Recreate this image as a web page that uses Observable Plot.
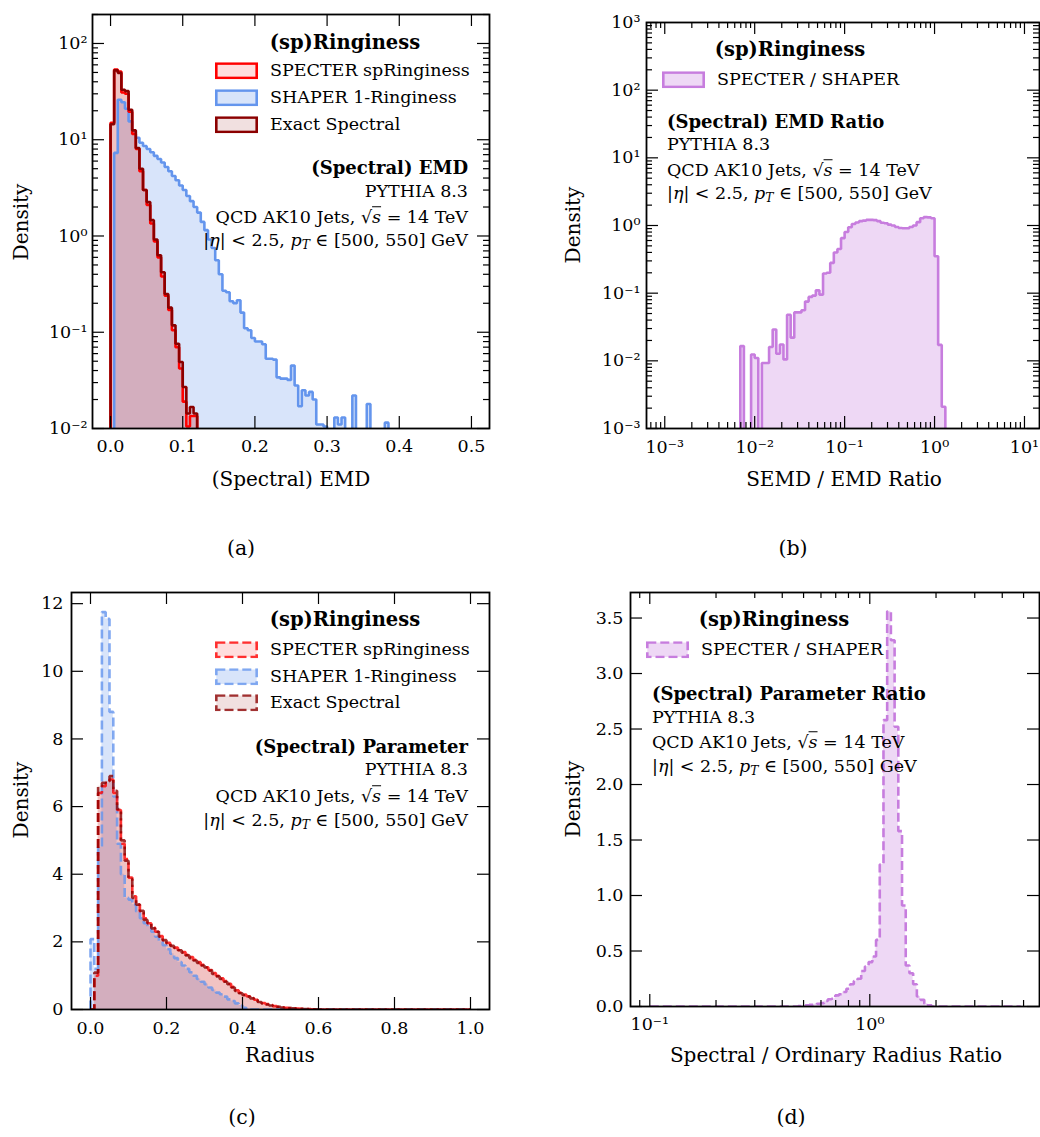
<!DOCTYPE html>
<html>
<head>
<meta charset="utf-8">
<script src="https://cdn.jsdelivr.net/npm/d3@7"></script>
<script src="https://cdn.jsdelivr.net/npm/@observablehq/plot@0.6"></script>
<style>
  body { margin: 0; background: #fff; }
  #page { position: relative; width: 1040px; height: 1137px; background: #fff; overflow: hidden;
          font-family: "DejaVu Serif", serif; color: #000; }
  .abs { position: absolute; white-space: nowrap; line-height: 1; }
  .leg { position: absolute; display: flex; align-items: center; white-space: nowrap; line-height: 1; }
  .ov { text-decoration: overline; font-style: italic; }
  i { font-style: italic; }
  sub { font-size: 0.7em; vertical-align: -0.25em; }
</style>
</head>
<body>
<div id="page"></div>
<script>
// ---------------- DATA ----------------
// Panel (a): (Spectral) EMD, linear bins of width 0.005 starting at 0
const emdBinStart = 0, emdBinWidth = 0.005;
const emdSpecter = [15, 53.5, 51, 31, 30, 19.5, 11.5, 8.0, 4.7, 3.0, 2.1, 1.35, 0.88, 0.6, 0.38, 0.24, 0.17, 0.105, 0.07, 0.042, 0.019, 0.0105, 0.0135, 0.0135];
const emdShaper = [0, 7.3, 26, 24.5, 21, 15.5, 12.5, 10.5, 9.3, 8.6, 8.0, 7.4, 6.8, 6.3, 5.8, 5.2, 4.7, 4.2, 3.8, 3.35,
  3.0, 2.6, 2.3, 2.0, 1.75, 1.4, 1.15, 0.92, 0.75, 0.56, 0.40, 0.27, 0.26, 0.21, 0.20, 0.215, 0.16, 0.11, 0.105, 0.087,
  0.080, 0.080, 0.075, 0.053, 0.053, 0.052, 0.034, 0.033, 0.033, 0.032, 0.045, 0.028, 0.017, 0.025, 0.022, 0.024, 0.020, 0.011, 0.011, 0.0105,
  0, 0, 0.013, 0.011, 0.013, 0, 0, 0.022, 0, 0, 0, 0.018, 0, 0, 0, 0, 0.0115];
const emdExact = [14.5, 52.5, 49.5, 33, 32, 20.5, 12.5, 8.2, 5.0, 3.0, 2.25, 1.46, 0.92, 0.63, 0.42, 0.25, 0.18, 0.118, 0.076, 0.049, 0.027, 0.0143, 0.0167, 0.0143];

// Panel (b): SEMD / EMD ratio, log bins (0.04 decades) starting at bin 21 of 10^-3
const emdRatioLogStart = -3, emdRatioLogStep = 0.04, emdRatioFirstBin = 21;
const emdRatio = [0.0165, 0, 0, 0.0124, 0.011, 0, 0.0093, 0.0093, 0.016, 0.029, 0.0127, 0.0174, 0.0105, 0.048, 0.022,
  0.052, 0.052, 0.056, 0.075, 0.088, 0.092, 0.11, 0.095, 0.195, 0.2, 0.28, 0.40, 0.45, 0.65, 0.80, 0.94,
  1.05, 1.11, 1.16, 1.18, 1.21, 1.21, 1.2, 1.16, 1.10, 1.08, 1.03, 1.0, 0.95, 0.92, 0.91, 0.91, 0.95, 1.0,
  1.12, 1.28, 1.33, 1.32, 1.28, 0.352, 0.0172, 0.0021];

// Panel (c): Radius, linear bins of width 0.01 on [0, 1]
const radiusBinStart = 0, radiusBinWidth = 0.01, radiusRangeEnd = 1.0;
const radiusSpecter = [0, 1.0, 6.4, 6.6, 6.7, 6.8, 6.4, 5.9, 4.9, 4.45, 3.9, 3.35, 3.1, 2.9, 2.7, 2.55, 2.42, 2.3, 2.17, 2.05,
  1.97, 1.9, 1.83, 1.76, 1.7, 1.62, 1.55, 1.47, 1.4, 1.32, 1.25, 1.17, 1.08, 1.0, 0.92, 0.84, 0.76, 0.67, 0.57, 0.5,
  0.44, 0.39, 0.34, 0.29, 0.23, 0.19, 0.16, 0.13, 0.1, 0.08, 0.065, 0.05, 0.04, 0.035, 0.03, 0.02, 0.015, 0.01, 0.008, 0.005];
const radiusShaper = [2.08, 1.2, 4.8, 11.75, 11.55, 8.8, 6.3, 4.9, 4.0, 3.3, 3.25, 3.1, 2.9, 2.7, 2.55, 2.45, 2.3, 2.15, 2.0, 1.9,
  1.78, 1.65, 1.52, 1.4, 1.3, 1.2, 1.1, 1.0, 0.9, 0.82, 0.75, 0.65, 0.58, 0.5, 0.45, 0.38, 0.3, 0.25, 0.18, 0.12, 0.05, 0.01];
const radiusExact = [0, 1.09, 6.6, 6.7, 6.75, 6.9, 6.47, 5.93, 5.0, 4.4, 3.86, 3.3, 3.1, 2.92, 2.65, 2.55, 2.4, 2.3, 2.15, 2.05,
  1.95, 1.88, 1.82, 1.75, 1.68, 1.6, 1.52, 1.45, 1.38, 1.3, 1.24, 1.15, 1.05, 0.98, 0.9, 0.82, 0.75, 0.65, 0.55, 0.48,
  0.42, 0.38, 0.33, 0.28, 0.22, 0.18, 0.15, 0.12, 0.1, 0.08, 0.06, 0.05, 0.04, 0.035, 0.03, 0.02, 0.015, 0.01, 0.008, 0.005];

// Panel (d): Spectral / Ordinary radius ratio, 100 log bins from 10^-1 (0.01686 decades each)
const radRatioLogStart = -1, radRatioLogStep = 0.01686;
const radiusRatio = [0, 0, 0, 0, 0, 0, 0, 0, 0, 0,  0, 0, 0, 0, 0, 0, 0, 0, 0, 0,
  0, 0, 0, 0, 0, 0, 0, 0, 0, 0,  0, 0, 0, 0, 0, 0, 0, 0, 0, 0,
  0.005, 0.008, 0.01, 0.015, 0.02, 0.024, 0.03, 0.05, 0.065, 0.07,
  0.1, 0.11, 0.13, 0.16, 0.2, 0.23, 0.25, 0.32, 0.36, 0.4,
  0.45, 0.6, 1.28, 2.58, 3.56, 3.3, 2.52, 1.58, 0.91, 0.37,
  0.3, 0.2, 0.09, 0.06, 0.025, 0.01, 0, 0, 0, 0,
  0, 0, 0, 0, 0, 0, 0, 0, 0, 0,  0, 0, 0, 0, 0, 0, 0, 0, 0, 0];

// Tick labels
const emdTicks = [0, 0.1, 0.2, 0.3, 0.4, 0.5];
const emdDensityTicks = [0.01, 0.1, 1, 10, 100];
const emdRatioTicks = [0.001, 0.01, 0.1, 1, 10];
const emdRatioDensityTicks = [0.001, 0.01, 0.1, 1, 10, 100, 1000];
const radiusTicks = [0, 0.2, 0.4, 0.6, 0.8, 1.0];
const radiusDensityTicks = [0, 2, 4, 6, 8, 10, 12];
const radRatioTicks = [0.1, 1];
const radRatioDensityTicks = [0, 0.5, 1.0, 1.5, 2.0, 2.5, 3.0, 3.5];

// Texts
const legendTitle = "(sp)Ringiness";
const seriesNames = ["SPECTER spRinginess", "SHAPER 1-Ringiness", "Exact Spectral"];
const ratioName = "SPECTER / SHAPER";
const infoLines = ["PYTHIA 8.3", "QCD AK10 Jets, √<span class='ov'>s</span> = 14 TeV",
  "|<i>η</i>| &lt; 2.5, <i>p</i><sub><i>T</i></sub> ∈ [500, 550] GeV"];
const panelTitles = ["(Spectral) EMD", "(Spectral) EMD Ratio", "(Spectral) Parameter", "(Spectral) Parameter Ratio"];
const xLabels = ["(Spectral) EMD", "SEMD / EMD Ratio", "Radius", "Spectral / Ordinary Radius Ratio"];
const captions = ["(a)", "(b)", "(c)", "(d)"];

// Colours
const cRed = "#ff0000", cBlue = "#6495ed", cDark = "#8b0000", cPurple = "#c77dde";

// ---------------- HELPERS ----------------
const page = document.getElementById("page");
const linEdges = (start, w, n) => d3.range(n + 1).map(i => start + i * w);
const logEdges = (e0, s, n) => d3.range(n + 1).map(i => 10 ** (e0 + i * s));
function stepPoints(edges, values, floor, extendTo) {
  const f = v => (v > 0 ? v : floor);
  const pts = [{x: edges[0], y: floor}];
  values.forEach((v, i) => { pts.push({x: edges[i], y: f(v)}, {x: edges[i + 1], y: f(v)}); });
  pts.push({x: edges[values.length], y: floor});
  if (extendTo !== undefined) pts.push({x: extendTo, y: floor});
  return pts;
}
const SUP = {"0":"⁰","1":"¹","2":"²","3":"³","4":"⁴","5":"⁵","6":"⁶","7":"⁷","8":"⁸","9":"⁹","-":"⁻"};
const logFmt = d => "10" + String(Math.round(Math.log10(d))).split("").map(c => SUP[c]).join("");
function minorLog(lo, hi) {
  const out = [];
  for (let e = Math.floor(Math.log10(lo)); e <= Math.ceil(Math.log10(hi)); e++)
    for (let m = 2; m <= 9; m++) { const v = m * 10 ** e; if (v >= lo && v <= hi) out.push(v); }
  return out;
}

const LW = 2.6, DASH = "9,4";
function drawPanel(cfg) {
  const {left, top, width, height, margin, x, y, series, xMajor, xMinor = [], yMajor, yMinor = [], xFormat, yFormat, xPad, yPad} = cfg;
  const fw = width - margin.left - margin.right, fh = height - margin.top - margin.bottom;
  const marks = [];
  for (const s of series) {
    marks.push(Plot.area(s.points, {x1: "x", y1: () => s.floor, y2: "y", fill: s.color, fillOpacity: s.fillOpacity, clip: true}));
  }
  for (const s of series) {
    marks.push(Plot.line(s.points, {x: "x", y: "y", stroke: s.color, strokeWidth: LW, strokeOpacity: s.strokeOpacity ?? 1,
      strokeDasharray: s.dash, strokeLinejoin: "miter", strokeLinecap: "butt", clip: true}));
  }
  const tk = {stroke: "#000", strokeWidth: 1.2};
  const MAJ = 12, MIN = 6;
  marks.push(
    Plot.ruleX(xMajor, {...tk, insetTop: fh - MAJ}),
    Plot.ruleX(xMajor, {...tk, insetBottom: fh - MAJ}),
    Plot.ruleY(yMajor, {...tk, insetRight: fw - MAJ}),
    Plot.ruleY(yMajor, {...tk, insetLeft: fw - MAJ})
  );
  if (xMinor.length) marks.push(Plot.ruleX(xMinor, {...tk, insetTop: fh - MIN}), Plot.ruleX(xMinor, {...tk, insetBottom: fh - MIN}));
  if (yMinor.length) marks.push(Plot.ruleY(yMinor, {...tk, insetRight: fw - MIN}), Plot.ruleY(yMinor, {...tk, insetLeft: fw - MIN}));
  marks.push(
    Plot.axisX({ticks: xMajor, tickFormat: xFormat, tickSize: 0, tickPadding: xPad, label: null}),
    Plot.axisY({ticks: yMajor, tickFormat: yFormat, tickSize: 0, tickPadding: yPad, label: null}),
    Plot.frame({stroke: "#000", strokeWidth: 1.8})
  );
  const svg = Plot.plot({
    width, height,
    marginLeft: margin.left, marginRight: margin.right, marginTop: margin.top, marginBottom: margin.bottom,
    x, y,
    style: {fontFamily: "'DejaVu Serif', serif", fontSize: "17.5px", background: "transparent", overflow: "visible", color: "#000"},
    marks
  });
  svg.style.position = "absolute";
  svg.style.left = left + "px";
  svg.style.top = top + "px";
  page.appendChild(svg);
}

function addText(html, x, y, {size = 17.5, weight = "normal", anchor = "middle", rotate = false} = {}) {
  const d = document.createElement("div");
  d.className = "abs";
  d.innerHTML = html;
  d.style.left = x + "px";
  d.style.top = y + "px";
  d.style.fontSize = size + "px";
  d.style.fontWeight = weight;
  const tx = anchor === "middle" ? "-50%" : anchor === "end" ? "-100%" : "0";
  d.style.transform = `translate(${tx}, -50%)` + (rotate ? " rotate(-90deg)" : "");
  page.appendChild(d);
}
function addLegendEntry(label, x, y, color, fillOpacity, dash, strokeOpacity = 1, textGap = 12) {
  const d = document.createElement("div");
  d.className = "leg";
  d.style.left = x + "px";
  d.style.top = y + "px";
  d.style.transform = "translateY(-50%)";
  d.style.fontSize = "17.5px";
  d.innerHTML = `<svg width="43" height="17" style="display:block;margin-right:${textGap}px">
    <rect x="1.3" y="1.3" width="40.4" height="14.4" fill="${color}" fill-opacity="${fillOpacity}" stroke="${color}"
      stroke-opacity="${strokeOpacity}" stroke-width="2.6" ${dash ? `stroke-dasharray="${dash}"` : ""}/></svg><span>${label}</span>`;
  page.appendChild(d);
}

// ---------------- PANEL (a) ----------------
const floorLog = 1e-6;
drawPanel({
  left: 0, top: 0, width: 500, height: 470, margin: {left: 92, right: 11, top: 14, bottom: 42},
  x: {type: "linear", domain: [-0.025, 0.525]},
  y: {type: "log", domain: [0.01, 200]},
  series: [
    {points: stepPoints(linEdges(emdBinStart, emdBinWidth, emdShaper.length), emdShaper, floorLog), floor: floorLog, color: cBlue, fillOpacity: 0.25},
    {points: stepPoints(linEdges(emdBinStart, emdBinWidth, emdSpecter.length), emdSpecter, floorLog), floor: floorLog, color: cRed, fillOpacity: 0.13},
    {points: stepPoints(linEdges(emdBinStart, emdBinWidth, emdExact.length), emdExact, floorLog), floor: floorLog, color: cDark, fillOpacity: 0.12}
  ],
  xMajor: emdTicks, yMajor: emdDensityTicks, yMinor: minorLog(0.01, 200),
  xFormat: d3.format(".1f"), yFormat: logFmt, xPad: 11, yPad: 5
});

// ---------------- PANEL (b) ----------------
drawPanel({
  left: 530, top: 0, width: 510, height: 470, margin: {left: 116, right: 1, top: 22, bottom: 42},
  x: {type: "log", domain: [10 ** -3.203, 10 ** 1.167]},
  y: {type: "log", domain: [1e-3, 1e3]},
  series: [
    {points: stepPoints(logEdges(emdRatioLogStart + emdRatioFirstBin * emdRatioLogStep, emdRatioLogStep, emdRatio.length), emdRatio, floorLog),
     floor: floorLog, color: cPurple, fillOpacity: 0.3}
  ],
  xMajor: emdRatioTicks, xMinor: minorLog(10 ** -3.203, 10 ** 1.167),
  yMajor: emdRatioDensityTicks, yMinor: minorLog(1e-3, 1e3),
  xFormat: logFmt, yFormat: logFmt, xPad: 12, yPad: 6
});

// ---------------- PANEL (c) ----------------
drawPanel({
  left: 0, top: 570, width: 500, height: 470, margin: {left: 71, right: 11, top: 22, bottom: 31},
  x: {type: "linear", domain: [-0.05, 1.05]},
  y: {type: "linear", domain: [0, 12.33]},
  series: [
    {points: stepPoints(linEdges(radiusBinStart, radiusBinWidth, radiusShaper.length), radiusShaper, 0, radiusRangeEnd), floor: 0, color: cBlue, fillOpacity: 0.25, dash: DASH, strokeOpacity: 0.8},
    {points: stepPoints(linEdges(radiusBinStart, radiusBinWidth, radiusSpecter.length), radiusSpecter, 0, radiusRangeEnd), floor: 0, color: cRed, fillOpacity: 0.13, dash: DASH, strokeOpacity: 0.8},
    {points: stepPoints(linEdges(radiusBinStart, radiusBinWidth, radiusExact.length), radiusExact, 0, radiusRangeEnd), floor: 0, color: cDark, fillOpacity: 0.12, dash: DASH, strokeOpacity: 0.8}
  ],
  xMajor: radiusTicks, yMajor: radiusDensityTicks,
  xFormat: d3.format(".1f"), yFormat: d3.format("d"), xPad: 12, yPad: 8
});

// ---------------- PANEL (d) ----------------
drawPanel({
  left: 530, top: 570, width: 510, height: 470, margin: {left: 100, right: 1, top: 22, bottom: 34},
  x: {type: "log", domain: [10 ** -1.0877, 10 ** 0.7714]},
  y: {type: "linear", domain: [0, 3.73]},
  series: [
    {points: stepPoints(logEdges(radRatioLogStart, radRatioLogStep, radiusRatio.length), radiusRatio, 0), floor: 0, color: cPurple, fillOpacity: 0.3, dash: DASH}
  ],
  xMajor: radRatioTicks, xMinor: minorLog(10 ** -1.0877, 10 ** 0.7714),
  yMajor: radRatioDensityTicks,
  xFormat: logFmt, yFormat: d3.format(".1f"), xPad: 11, yPad: 7
});

// ---------------- TEXT OVERLAYS ----------------
// axis labels
addText(xLabels[0], 291, 479, {size: 20});
addText("Density", 21, 222, {size: 20, rotate: true});
addText(xLabels[1], 844, 479, {size: 20});
addText("Density", 573, 225, {size: 20, rotate: true});
addText(xLabels[2], 280, 1055, {size: 20});
addText("Density", 21, 800, {size: 20, rotate: true});
addText(xLabels[3], 836, 1055, {size: 20});
addText("Density", 573, 799, {size: 20, rotate: true});
// captions
addText(captions[0], 241, 548, {size: 20.5});
addText(captions[1], 793, 548, {size: 20.5});
addText(captions[2], 242, 1117, {size: 20.5});
addText(captions[3], 791, 1117, {size: 20.5});

// legends
addText(legendTitle, 345, 43, {size: 19.5, weight: "bold"});
addLegendEntry(seriesNames[0], 215, 71, cRed, 0.13);
addLegendEntry(seriesNames[1], 215, 98, cBlue, 0.25);
addLegendEntry(seriesNames[2], 215, 125, cDark, 0.12);

addText(legendTitle, 790, 50, {size: 19.5, weight: "bold"});
addLegendEntry(ratioName, 662, 80, cPurple, 0.3);

addText(legendTitle, 345, 620, {size: 19.5, weight: "bold"});
addLegendEntry(seriesNames[0], 215, 650, cRed, 0.13, DASH, 0.8);
addLegendEntry(seriesNames[1], 215, 677, cBlue, 0.25, DASH, 0.8);
addLegendEntry(seriesNames[2], 215, 703, cDark, 0.12, DASH, 0.8);

addText(legendTitle, 774, 620, {size: 19.5, weight: "bold"});
addLegendEntry(ratioName, 646, 650, cPurple, 0.3, DASH);

// annotations
function annotate(title, x, ys, anchor) {
  addText(title, x, ys[0], {size: 18, weight: "bold", anchor});
  infoLines.forEach((l, i) => addText(l, x, ys[i + 1], {size: 17.5, anchor}));
}
annotate(panelTitles[0], 468, [168, 192, 218, 242], "end");
annotate(panelTitles[1], 667, [122, 145, 171, 195], "start");
annotate(panelTitles[2], 468, [747, 770, 797, 822], "end");
annotate(panelTitles[3], 652, [694, 718, 743, 768], "start");
</script>
</body>
</html>
